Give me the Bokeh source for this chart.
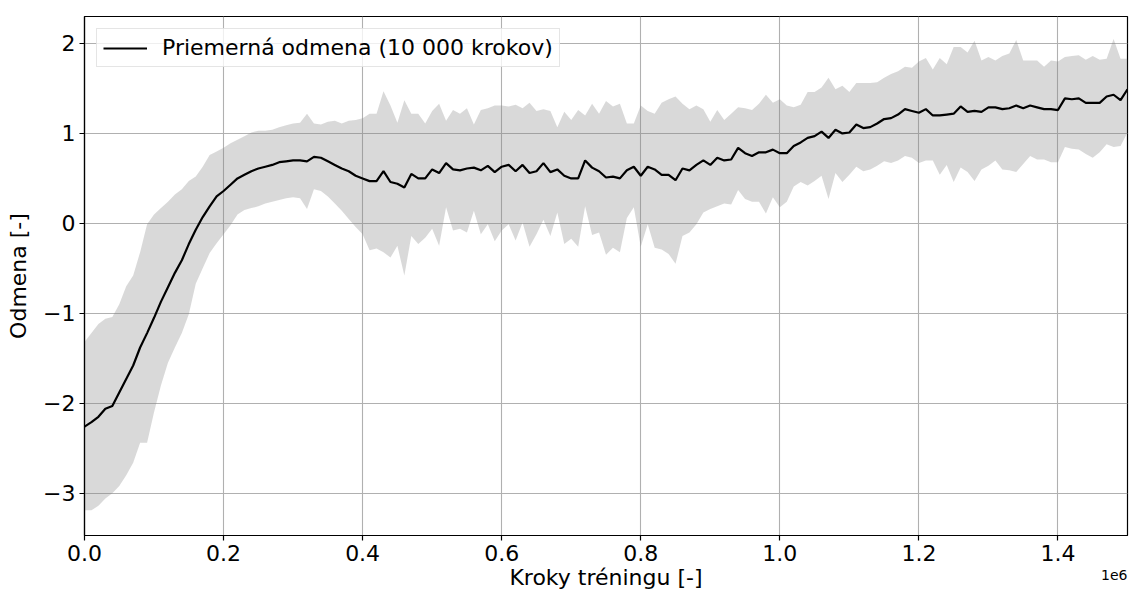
from bokeh.plotting import figure
from bokeh.models import Range1d, FixedTicker, Title, Legend, LegendItem
from bokeh.embed import file_html
from bokeh.resources import INLINE

# Training steps (one sample every 10 000 steps)
steps = [i * 10000 for i in range(151)]

# Mean reward per sample
mean_reward = [
    -2.26, -2.21, -2.15, -2.06, -2.03, -1.88, -1.73, -1.58, -1.38, -1.22,
    -1.05, -0.87, -0.71, -0.55, -0.41, -0.23, -0.07, 0.07, 0.19, 0.30,
    0.36, 0.43, 0.50, 0.54, 0.58, 0.61, 0.63, 0.65, 0.68, 0.69,
    0.70, 0.70, 0.69, 0.74, 0.73, 0.69, 0.65, 0.61, 0.58, 0.53,
    0.50, 0.47, 0.47, 0.58, 0.46, 0.44, 0.40, 0.55, 0.50, 0.50,
    0.60, 0.56, 0.67, 0.60, 0.59, 0.61, 0.62, 0.59, 0.64, 0.57,
    0.63, 0.65, 0.58, 0.65, 0.56, 0.58, 0.67, 0.57, 0.60, 0.53,
    0.50, 0.50, 0.70, 0.62, 0.58, 0.51, 0.52, 0.50, 0.59, 0.63,
    0.53, 0.63, 0.60, 0.54, 0.54, 0.48, 0.61, 0.59, 0.65, 0.70,
    0.65, 0.73, 0.70, 0.71, 0.84, 0.78, 0.75, 0.79, 0.79, 0.82,
    0.78, 0.78, 0.86, 0.90, 0.95, 0.97, 1.02, 0.95, 1.04, 1.00,
    1.01, 1.10, 1.06, 1.07, 1.11, 1.16, 1.17, 1.21, 1.27, 1.25,
    1.23, 1.27, 1.20, 1.20, 1.21, 1.22, 1.30, 1.24, 1.25, 1.24,
    1.29, 1.29, 1.27, 1.28, 1.31, 1.28, 1.31, 1.29, 1.27, 1.27,
    1.26, 1.39, 1.38, 1.39, 1.34, 1.34, 1.34, 1.41, 1.43, 1.37,
    1.49,
]

# Upper edge of the spread band
upper_band = [
    -1.32, -1.22, -1.12, -1.06, -1.04, -0.90, -0.70, -0.58, -0.32, -0.01,
    0.10, 0.17, 0.24, 0.32, 0.38, 0.47, 0.52, 0.63, 0.76, 0.80,
    0.84, 0.89, 0.93, 0.97, 1.01, 1.03, 1.03, 1.04, 1.07, 1.09,
    1.11, 1.12, 1.22, 1.11, 1.10, 1.13, 1.14, 1.11, 1.14, 1.15,
    1.17, 1.22, 1.22, 1.47, 1.31, 1.12, 1.37, 1.22, 1.22, 1.11,
    1.25, 1.33, 1.14, 1.26, 1.22, 1.28, 1.10, 1.26, 1.28, 1.31,
    1.31, 1.30, 1.32, 1.28, 1.34, 1.25, 1.27, 1.25, 1.07, 1.24,
    1.15, 1.26, 1.20, 1.33, 1.22, 1.36, 1.30, 1.33, 1.11, 1.11,
    1.31, 1.25, 1.22, 1.34, 1.38, 1.41, 1.33, 1.27, 1.31, 1.27,
    1.13, 1.26, 1.15, 1.22, 1.29, 1.28, 1.26, 1.33, 1.43, 1.34,
    1.38, 1.31, 1.29, 1.32, 1.46, 1.46, 1.51, 1.62, 1.49, 1.53,
    1.46, 1.56, 1.56, 1.56, 1.57, 1.62, 1.66, 1.69, 1.74, 1.73,
    1.80, 1.84, 1.71, 1.84, 1.77, 1.96, 1.96, 1.90, 2.03, 1.81,
    1.85, 1.81, 1.86, 1.89, 2.04, 1.81, 1.81, 1.81, 1.74, 1.81,
    1.80, 1.85, 1.86, 1.87, 1.82, 1.86, 1.82, 1.83, 2.05, 1.83,
    1.83,
]

# Lower edge of the spread band
lower_band = [
    -3.19, -3.19, -3.14, -3.06, -3.00, -2.92, -2.80, -2.66, -2.44, -2.44,
    -2.10, -1.80, -1.55, -1.38, -1.22, -1.01, -0.67, -0.50, -0.33, -0.22,
    -0.12, -0.02, 0.10, 0.15, 0.17, 0.19, 0.22, 0.24, 0.26, 0.28,
    0.29, 0.28, 0.16, 0.38, 0.36, 0.30, 0.22, 0.14, 0.05, -0.04,
    -0.12, -0.30, -0.28, -0.32, -0.38, -0.25, -0.58, -0.14, -0.23, -0.16,
    -0.06, -0.25, 0.18, -0.08, -0.06, -0.10, 0.14, -0.12, -0.01, -0.20,
    -0.08, -0.01, -0.19, 0.01, -0.26, -0.12, 0.04, -0.14, 0.12, -0.23,
    -0.17, -0.26, 0.19, -0.13, -0.10, -0.35, -0.27, -0.32, 0.06, 0.18,
    -0.26, -0.01, -0.27, -0.29, -0.34, -0.45, -0.14, -0.10, -0.01, 0.12,
    0.16, 0.19, 0.22, 0.21, 0.37, 0.27, 0.24, 0.24, 0.11, 0.29,
    0.18, 0.24, 0.41, 0.46, 0.42, 0.47, 0.53, 0.27, 0.56, 0.46,
    0.54, 0.63, 0.58, 0.60, 0.64, 0.69, 0.67, 0.70, 0.75, 0.73,
    0.67, 0.70, 0.70, 0.54, 0.65, 0.46, 0.62, 0.57, 0.47, 0.60,
    0.64, 0.70, 0.60, 0.59, 0.57, 0.66, 0.75, 0.71, 0.71, 0.68,
    0.68, 0.85, 0.83, 0.82, 0.77, 0.73, 0.79, 0.88, 0.85, 0.86,
    1.01,
]

x_ticks = [0, 200000, 400000, 600000, 800000, 1000000, 1200000, 1400000]
x_tick_labels = ["0.0", "0.2", "0.4", "0.6", "0.8", "1.0", "1.2", "1.4"]
y_ticks = [-3, -2, -1, 0, 1, 2]
y_tick_labels = ["\u22123", "\u22122", "\u22121", "0", "1", "2"]
x_scale_note = "1e6"

FONT = "DejaVu Sans"
FS = "22px"

p = figure(
    width=1129, height=595,
    output_backend="svg", toolbar_location=None,
    x_range=Range1d(0, 1500000), y_range=Range1d(-3.47, 2.30),
    min_border_left=84, min_border_right=2,
    min_border_top=16, min_border_bottom=60,
)
p.background_fill_color = "white"
p.border_fill_color = "white"
p.outline_line_color = "black"
p.outline_line_width = 1.2

band = p.varea(x=steps, y1=lower_band, y2=upper_band,
               fill_color="gray", fill_alpha=0.3)
line = p.line(x=steps, y=mean_reward, line_color="black", line_width=2.2)

# axes
for ax in (p.xaxis[0], p.yaxis[0]):
    ax.axis_line_color = "black"
    ax.axis_line_width = 1.2
    ax.major_tick_line_color = "black"
    ax.major_tick_line_width = 1.2
    ax.major_tick_in = 0
    ax.major_tick_out = 5
    ax.minor_tick_line_color = None
    ax.major_label_text_font = FONT
    ax.major_label_text_font_size = FS
    ax.major_label_text_color = "black"
    ax.axis_label_text_font = FONT
    ax.axis_label_text_font_size = FS
    ax.axis_label_text_font_style = "normal"
    ax.axis_label_text_color = "black"
    ax.major_label_standoff = 4

p.xaxis.ticker = FixedTicker(ticks=x_ticks)
p.xaxis.major_label_overrides = dict(zip(x_ticks, x_tick_labels))
p.xaxis.axis_label = "Kroky tréningu [-]"
p.xaxis.axis_label_standoff = 1

p.yaxis.ticker = FixedTicker(ticks=y_ticks)
p.yaxis.major_label_overrides = dict(zip(y_ticks, y_tick_labels))
p.yaxis.axis_label = "Odmena [-]"
p.yaxis.axis_label_standoff = 9

p.grid.grid_line_color = "#b0b0b0"
p.grid.grid_line_width = 1.1
p.xgrid.ticker = FixedTicker(ticks=x_ticks)
p.ygrid.ticker = FixedTicker(ticks=y_ticks)

# scale factor note at the right end, on the axis-label row
note = Title(text=x_scale_note, align="right", vertical_align="top",
             text_font=FONT, text_font_size="14px", text_font_style="normal",
             text_color="black", standoff=-46)
p.add_layout(note, "below")

legend = Legend(items=[LegendItem(label="Priemerná odmena (10 000 krokov)",
                                  renderers=[line])],
                location="top_left")
legend.label_text_font = FONT
legend.label_text_font_size = FS
legend.label_text_color = "black"
legend.glyph_width = 44
legend.glyph_height = 20
legend.label_standoff = 15
legend.padding = 6
legend.margin = 12
legend.border_line_color = "#cccccc"
legend.border_line_width = 1
legend.background_fill_color = "white"
legend.background_fill_alpha = 0.8
p.add_layout(legend)

open("out.html", "w").write(file_html(p, INLINE))
